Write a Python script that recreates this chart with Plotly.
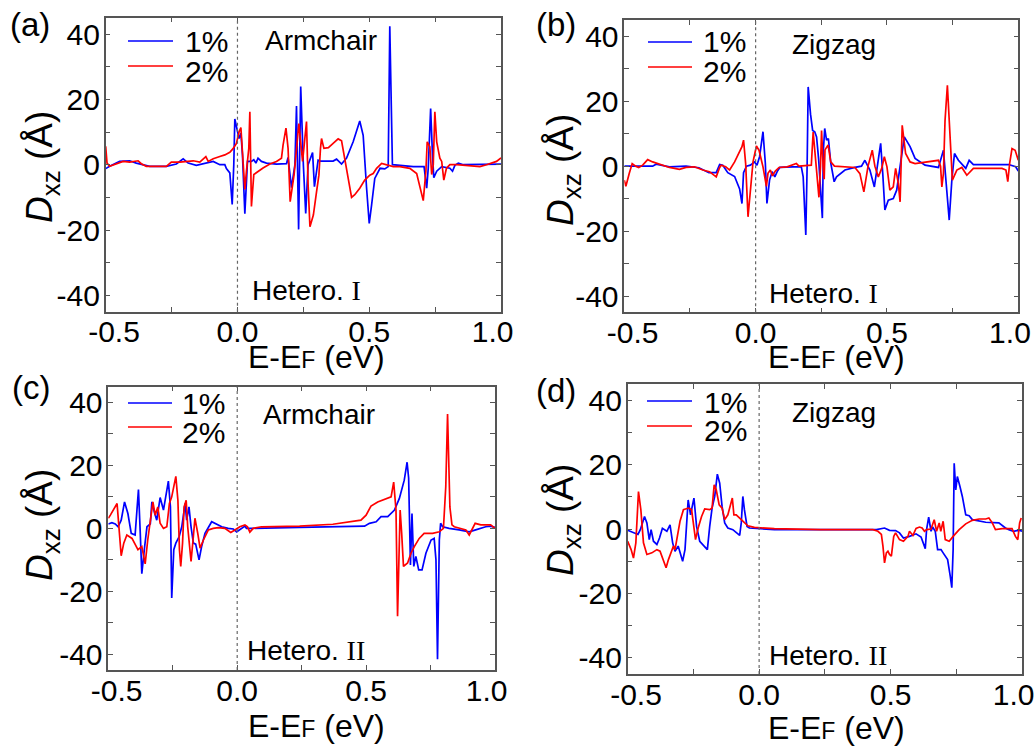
import plotly.graph_objects as go

# ---------------- data (E - EF in eV, D_xz in Angstrom) ----------------
NB = "\u00a0"
x_tick_vals = [-0.5, 0.0, 0.5, 1.0]
x_tick_text = [NB + NB + "-0.5", "0.0", "0.5", "1.0" + NB + NB]
y_tick_vals = [-40, -20, 0, 20, 40]
y_tick_text = ["-40", "-20", "0", "20", "40"]
series_names = ["1%", "2%"]
panel_titles = ["Armchair", "Zigzag", "Armchair", "Zigzag"]
panel_letters = ["(a)", "(b)", "(c)", "(d)"]
hetero_numerals = ["I", "I", "II", "II"]

a_1pct = [(-0.5, -1.2), (-0.485, -0.5), (-0.447, 1.0), (-0.409, 1.2), (-0.384, 0.5), (-0.358, 0), (-0.333, -0.5),
          (-0.27, -0.5), (-0.232, 0.2), (-0.206, 1.8), (-0.187, 0.5), (-0.156, -0.2), (-0.118, 0.5), (-0.092, 1.0),
          (-0.067, 0), (-0.048, 0), (-0.042, -1.2), (-0.029, -2.5), (-0.02, -12.2), (-0.014, 0), (-0.01, 14),
          (-0.001, 10.7), (0.006, 8), (0.013, 9.7), (0.019, 3), (0.028, -15), (0.038, 1), (0.053, 1), (0.062, 1.5),
          (0.07, 0.5), (0.078, 2), (0.091, 1), (0.11, 0.5), (0.148, 0.2), (0.186, 0.3), (0.192, 2.2), (0.205, -7),
          (0.218, 0), (0.224, 18), (0.232, -19.8), (0.24, 23.9), (0.25, 0), (0.259, -14.9), (0.268, 0), (0.285, 3.7),
          (0.292, -6.7), (0.306, 1.4), (0.315, 1.1), (0.363, 1.1), (0.376, 1.7), (0.395, 0.2), (0.414, 2.0),
          (0.439, 7), (0.464, 13.4), (0.477, 9), (0.49, -7.2), (0.5, -18), (0.509, -12.3), (0.521, -4.2),
          (0.541, -1.1), (0.559, -1.3), (0.572, -0.6), (0.578, 42.4), (0.588, 0), (0.616, -0.2), (0.667, -0.6),
          (0.708, -0.6), (0.718, -7.2), (0.724, -1), (0.733, 17.2), (0.74, 3), (0.745, -4), (0.756, -2),
          (0.775, -0.6), (0.806, -1.1), (0.816, -2), (0.825, -0.2), (0.838, 0.5), (0.857, 0), (1.0, 0.2)]

a_2pct = [(-0.5, 5.6), (-0.495, 0.5), (-0.485, -0.5), (-0.459, 0.2), (-0.434, 1), (-0.409, 0.8), (-0.377, 1.2),
          (-0.365, 0.3), (-0.346, -0.5), (-0.27, -0.5), (-0.251, 0.8), (-0.219, 0.8), (-0.168, 1.2), (-0.143, 0.8),
          (-0.12, 2.5), (-0.111, 1.0), (-0.092, 1.8), (-0.067, 2.5), (-0.048, 3), (-0.029, 3.8), (-0.016, 5),
          (-0.004, 6.5), (0.006, 10), (0.013, 11.4), (0.019, 5), (0.028, -7.6), (0.034, -2), (0.043, 5),
          (0.047, 16.2), (0.053, -12.8), (0.062, -3), (0.078, -2), (0.097, -1), (0.123, 0.2), (0.148, 1),
          (0.167, 2), (0.173, 6), (0.184, 11.2), (0.192, 5), (0.2, -11.3), (0.215, -3), (0.233, 12.6),
          (0.247, 1), (0.262, 13.2), (0.268, -6), (0.275, -19), (0.288, -15.4), (0.3, -8.3), (0.309, -3.2),
          (0.315, 5), (0.319, 8), (0.328, 5), (0.345, 5.2), (0.363, 6.5), (0.382, 7.9), (0.395, 7.3),
          (0.407, 2), (0.42, -4.2), (0.433, -10), (0.445, -9.2), (0.464, -7.2), (0.483, -4.7), (0.502, -3.2),
          (0.515, -2.7), (0.528, -1.1), (0.547, 0.4), (0.566, -0.1), (0.591, -0.6), (0.616, -0.6), (0.654, -1.1),
          (0.68, -2.7), (0.695, -7.3), (0.705, -11), (0.715, -2), (0.72, 7), (0.73, 5.5), (0.737, -3), (0.743, 0),
          (0.749, 16.2), (0.756, 7), (0.768, 2), (0.775, 1), (0.783, -4.7), (0.793, -1.1), (0.806, 0),
          (0.832, 0), (0.87, -0.2), (0.92, -0.6), (0.945, 0), (0.983, 1), (1.0, 2.1)]

b_1pct = [(-0.5, 0), (-0.392, 0), (-0.379, 0.6), (-0.328, -0.2), (-0.265, 0), (-0.216, -0.5), (-0.178, -2),
          (-0.15, -2), (-0.137, 0.5), (-0.125, 0.3), (-0.106, -2), (-0.08, -3.2), (-0.061, -7), (-0.052, -11.5),
          (-0.046, -2), (-0.035, 0), (-0.02, 0.3), (-0.004, 1.3), (0.005, 0.3), (0.015, 2.9), (0.028, 10.6),
          (0.037, 0.8), (0.043, -11.5), (0.053, -4.3), (0.063, -1.7), (0.073, -3.3), (0.082, -1.7), (0.092, -0.4),
          (0.142, -0.2), (0.174, -0.2), (0.181, -3.3), (0.187, -17.6), (0.191, -21.2), (0.196, 0), (0.2, 24.4),
          (0.209, 16), (0.217, 11), (0.225, 10.6), (0.232, 9), (0.24, 2), (0.25, -12), (0.254, -16), (0.258, 5),
          (0.263, 11.6), (0.27, 8), (0.277, 8.5), (0.286, 1), (0.299, -4.8), (0.308, -3.3), (0.34, -1.2),
          (0.378, -0.4), (0.403, 0), (0.416, 1.8), (0.435, -1.2), (0.452, -6.4), (0.467, 1.8), (0.476, 7),
          (0.484, -2.3), (0.492, -13.5), (0.505, -10.5), (0.524, -10), (0.537, -7.4), (0.553, 1.3), (0.566, 9),
          (0.588, 6), (0.607, 2.4), (0.645, 0.3), (0.696, -0.4), (0.715, 4.9), (0.728, -7.4), (0.737, -16.6),
          (0.747, -4.3), (0.757, 3.9), (0.772, 1.8), (0.8, -0.7), (0.813, 1.8), (0.829, 0.5), (0.861, 0.5),
          (0.963, 0.5), (0.99, -0.2), (1.0, -1.5)]

b_2pct = [(-0.5, -4.3), (-0.494, -6.2), (-0.481, -2.2), (-0.47, 0.8), (-0.457, 0), (-0.445, -0.4), (-0.43, 0.3),
          (-0.411, 2), (-0.392, 1.3), (-0.373, 0.8), (-0.354, 0.3), (-0.328, -0.4), (-0.29, -1), (-0.265, -0.4),
          (-0.233, -0.2), (-0.201, -1.2), (-0.176, -1.7), (-0.15, -3.3), (-0.137, -0.4), (-0.131, 0.3),
          (-0.114, -0.2), (-0.099, -1.2), (-0.08, 1.3), (-0.064, 3.9), (-0.052, 6), (-0.046, 8), (-0.038, 0.8),
          (-0.029, -15.6), (-0.02, -6.4), (-0.01, 1.3), (0.003, 6.2), (0.013, 4.9), (0.022, 1.8), (0.028, -0.2),
          (0.041, -6.2), (0.047, -2.2), (0.056, -1.2), (0.064, -3), (0.075, -1.5), (0.089, -0.4), (0.12, -0.2),
          (0.155, 0.8), (0.165, 0), (0.212, 0.3), (0.219, 10.5), (0.226, 4), (0.232, -2), (0.241, -9.6),
          (0.247, 0), (0.251, 11), (0.257, 0), (0.261, -4), (0.264, 5), (0.276, 6.5), (0.286, 1.3), (0.3, 0),
          (0.378, -0.4), (0.397, -2.3), (0.412, -7.9), (0.428, 0), (0.444, 4.9), (0.454, 0), (0.467, -3.3),
          (0.48, -0.7), (0.49, 2.9), (0.5, -0.2), (0.511, -7.4), (0.524, -6.4), (0.533, -0.7), (0.543, -5.2),
          (0.55, -11), (0.558, 12.6), (0.571, 3.9), (0.588, 1.3), (0.607, 0.8), (0.658, 1.3), (0.696, 1.8),
          (0.704, 0), (0.709, -6.4), (0.715, -2.2), (0.721, 14), (0.73, 24.9), (0.74, 11), (0.749, -4.3),
          (0.766, -1.2), (0.785, -0.4), (0.804, -2.8), (0.817, -1.7), (0.829, -0.7), (0.861, -0.7),
          (0.938, -0.7), (0.953, -1.2), (0.96, -4.8), (0.967, 0.8), (0.976, 5.4), (0.988, 4.9), (1.0, 1.8)]

c_1pct = [(-0.5, 1.4), (-0.486, 1.8), (-0.473, 1.4), (-0.462, 0.5), (-0.45, 2.6), (-0.437, 8.4), (-0.424, 4.7),
          (-0.411, -1.6), (-0.396, -2.1), (-0.383, 12.3), (-0.376, -1.6), (-0.37, -14.4), (-0.359, -5.8),
          (-0.35, 0.5), (-0.337, 1.4), (-0.331, 8.4), (-0.32, 4.7), (-0.312, 2.6), (-0.299, 9.8), (-0.286, 5.8),
          (-0.267, 15), (-0.259, 6.8), (-0.254, -22.1), (-0.246, -6.8), (-0.238, -4.7), (-0.225, -2.6),
          (-0.215, 0.5), (-0.202, 7.9), (-0.196, 2.6), (-0.187, 6.8), (-0.179, 0.5), (-0.17, -4.7), (-0.161, -5),
          (-0.148, -10), (-0.138, -5.8), (-0.125, -1.6), (-0.099, 2.1), (-0.08, 1.4), (-0.06, 0.5), (-0.035, 0),
          (-0.015, -0.2), (-0.002, -1.1), (0.01, -0.5), (0.03, 0.7), (0.036, 0), (0.055, 0), (0.242, 0.3),
          (0.371, 0.5), (0.48, 0.5), (0.494, 0.7), (0.513, 1.6), (0.539, 2.1), (0.558, 3.7), (0.584, 3.7),
          (0.61, 5.8), (0.629, 9.5), (0.648, 15.3), (0.659, 21), (0.665, 16), (0.672, -11.6), (0.678, 4.7),
          (0.685, -12.1), (0.693, -8.9), (0.704, -13.2), (0.717, -13.2), (0.732, -7.9), (0.752, -3.7),
          (0.764, -3.2), (0.771, -10), (0.777, -41.6), (0.784, -3.7), (0.789, 1.6), (0.797, 0.5), (0.822, 0),
          (0.861, -0.5), (0.9, -1.1), (0.925, -0.5), (0.964, 0.5), (0.983, 0.7), (1.0, 0.3)]

c_2pct = [(-0.5, 3.2), (-0.492, 4.2), (-0.466, 7.9), (-0.46, 2.6), (-0.45, -8.7), (-0.44, -4.7), (-0.428, -2.1),
          (-0.408, -3.2), (-0.385, -6.8), (-0.37, -5.8), (-0.357, -11.3), (-0.347, -3.7), (-0.338, 1.6),
          (-0.327, 8.4), (-0.318, 4.2), (-0.308, 6.8), (-0.299, 1.6), (-0.286, 0), (-0.273, 0.5), (-0.263, 7.9),
          (-0.254, 10), (-0.238, 16.5), (-0.23, 8.9), (-0.224, -6.8), (-0.219, -12.1), (-0.212, -4.7),
          (-0.206, 6.8), (-0.198, 8.9), (-0.192, 0.5), (-0.179, -10.5), (-0.17, -2.6), (-0.164, 3.2),
          (-0.153, -1.6), (-0.144, -6.3), (-0.131, -3.7), (-0.112, -0.5), (-0.093, 0), (-0.073, 0.2), (-0.048, 0),
          (-0.025, -1.3), (-0.009, -0.5), (0.01, 0.5), (0.03, 1.1), (0.04, 0.5), (0.049, -1.2), (0.062, 0),
          (0.094, 0.5), (0.133, 0.5), (0.242, 0.7), (0.371, 1.3), (0.48, 2.6), (0.5, 4.2), (0.519, 7.1),
          (0.545, 8.4), (0.577, 9.5), (0.597, 10), (0.607, 14.7), (0.616, 5.8), (0.622, -27.9), (0.626, -10),
          (0.632, 5.8), (0.638, -1.6), (0.645, -12.1), (0.661, -11), (0.674, -7.9), (0.687, -5.8), (0.706, -3.2),
          (0.725, -1.6), (0.758, -1.6), (0.784, -1.1), (0.8, 0), (0.809, 13.2), (0.816, 36.3), (0.825, 6.8),
          (0.833, 1.1), (0.842, 0.5), (0.861, 0), (0.887, -0.5), (0.9, -2.1), (0.912, 0), (0.923, 1.6),
          (0.945, 1.1), (0.983, 1.1), (1.0, 0)]

d_1pct = [(-0.5, -0.4), (-0.478, -1.2), (-0.461, -1.7), (-0.452, -0.2), (-0.436, 3.9), (-0.427, 1.9),
          (-0.418, -3.3), (-0.411, -0.2), (-0.402, -3.8), (-0.389, -4.8), (-0.379, -2.8), (-0.368, 0.2),
          (-0.351, -0.7), (-0.339, 1.3), (-0.329, -4.3), (-0.32, -6.9), (-0.308, -5.3), (-0.291, -10),
          (-0.282, -6.4), (-0.27, 9), (-0.261, 4.4), (-0.248, 9.6), (-0.238, 0.8), (-0.226, -3.8), (-0.209, -5.3),
          (-0.197, -6.4), (-0.188, 0.8), (-0.179, 6.5), (-0.169, 10.1), (-0.159, 17), (-0.15, 14.2), (-0.141, 7),
          (-0.131, 1.9), (-0.119, 0.3), (-0.1, -0.2), (-0.074, -2), (-0.068, 1.9), (-0.062, 10.1), (-0.056, 6),
          (-0.046, 0.8), (-0.037, 0.3), (-0.005, 0.2), (0.058, -0.2), (0.232, -0.2), (0.446, -0.2), (0.477, 0.3),
          (0.496, -0.4), (0.519, -0.5), (0.534, -1.2), (0.549, -2.8), (0.572, -2.3), (0.597, -1.5), (0.616, -2.5),
          (0.632, -6.1), (0.637, -0.2), (0.645, 3.7), (0.654, -0.7), (0.66, 0.6), (0.67, -0.7), (0.679, -6.4),
          (0.692, -6.4), (0.7, -7.4), (0.717, -9.5), (0.727, -14.6), (0.733, -18.2), (0.738, -6.4), (0.742, 20.4),
          (0.748, 12.1), (0.754, 16.3), (0.764, 13.2), (0.773, 10.1), (0.786, 4.4), (0.799, 4.1), (0.811, 2.9),
          (0.836, 2.4), (0.862, 2.1), (0.912, 1.9), (0.937, 0.3), (0.95, -0.2), (0.968, -0.7), (0.988, -0.4),
          (1.0, -0.7)]

d_2pct = [(-0.5, -3.8), (-0.487, -6.4), (-0.478, -9), (-0.469, -4.3), (-0.459, 11.6), (-0.45, 6), (-0.44, -4.3),
          (-0.427, -7.9), (-0.408, -7.4), (-0.389, -6.4), (-0.377, -6.9), (-0.364, -9.5), (-0.354, -12),
          (-0.345, -9.5), (-0.335, -7.4), (-0.326, -5.3), (-0.32, -6.4), (-0.309, -1.2), (-0.301, 2.4),
          (-0.288, 6), (-0.269, 6.5), (-0.257, 6), (-0.251, 1.9), (-0.242, -3.3), (-0.232, 0.3), (-0.219, 3.9),
          (-0.207, 6.2), (-0.188, 6), (-0.179, 6.5), (-0.171, 13.7), (-0.163, 12.1), (-0.152, 7.5), (-0.141, 6.5),
          (-0.131, 2.9), (-0.119, 4.4), (-0.102, 9.6), (-0.096, 4.4), (-0.087, 4.4), (-0.074, 3.4), (-0.062, 2.4),
          (-0.043, 1.0), (-0.018, 0.5), (0.008, 0.3), (0.058, 0.1), (0.232, -0.2), (0.433, -0.2), (0.452, -0.7),
          (0.465, -1.7), (0.471, -5.3), (0.477, -10.5), (0.484, -7.4), (0.49, -6.9), (0.496, -7.9), (0.503, -8.4),
          (0.512, -2.3), (0.519, -1.2), (0.534, -3.3), (0.549, -3.8), (0.566, -2.3), (0.572, -0.7), (0.585, -2.0),
          (0.597, 0.2), (0.61, 0.6), (0.62, 0.3), (0.629, -0.7), (0.637, -0.2), (0.654, 0), (0.666, 2.9),
          (0.675, -0.7), (0.685, 1.9), (0.691, -0.7), (0.7, 2.4), (0.708, -3.3), (0.723, -3.8), (0.738, -2.3),
          (0.761, -0.2), (0.786, 1.6), (0.811, 2.7), (0.837, 3.1), (0.862, 3.1), (0.874, 3.4), (0.887, 1.9),
          (0.899, -0.2), (0.925, 0.1), (0.962, 0.1), (0.975, -2.3), (0.984, -3.3), (0.991, 1.9), (0.997, 3.4)]

panel_data = [(a_1pct, a_2pct), (b_1pct, b_2pct), (c_1pct, c_2pct), (d_1pct, d_2pct)]

# ---------------- styling / layout ----------------
W, H = 1036, 747
COLORS = ["#0000ff", "#ff0000"]
FONT = "Liberation Sans, Arial, sans-serif"
AXCOL = "#555555"

def PX(x):
    return x / W

def PY(y):
    return 1 - y / H

# plot boxes in pixels: (left, right, top, bottom)
boxes = [(105.7, 501, 17.7, 311.7), (624.3, 1018.3, 20, 312.3),
         (108.3, 495, 386.7, 670), (627.7, 1022, 384, 674)]

fig = go.Figure()
layout = dict(width=W, height=H, template="none", showlegend=False,
              margin=dict(l=0, r=0, t=0, b=0), paper_bgcolor="white", plot_bgcolor="white",
              font=dict(family=FONT, color="black"))
shapes, annotations = [], []

for i, (box, series) in enumerate(zip(boxes, panel_data)):
    n = "" if i == 0 else str(i + 1)
    xa, ya = "x" + n, "y" + n
    L, R, T, B = box
    for k, s in enumerate(series):
        xs = [p[0] for p in s]
        ys = [p[1] for p in s]
        fig.add_trace(go.Scatter(x=xs, y=ys, mode="lines", name=series_names[k],
                                 line=dict(color=COLORS[k], width=1.7), xaxis=xa, yaxis=ya))
    common = dict(showline=True, mirror="ticks", linecolor=AXCOL, linewidth=1.5,
                  ticks="inside", ticklen=5, tickwidth=1.2, tickcolor=AXCOL,
                  showgrid=False, zeroline=False, ticklabeloverflow="allow",
                  tickfont=dict(family=FONT, size=30, color="black"))
    layout["xaxis" + n] = dict(common, domain=[PX(L), PX(R)], anchor=ya, range=[-0.5, 1.0],
                               tickmode="array", tickvals=x_tick_vals, ticktext=x_tick_text,
                               ticklabelstandoff=-7,
                               minor=dict(tickvals=[-0.25, 0.25, 0.75], ticks="inside", ticklen=5,
                                          tickcolor=AXCOL, tickwidth=1.2))
    layout["yaxis" + n] = dict(common, domain=[PY(B), PY(T)], anchor=xa, range=[-45, 45],
                               tickmode="array", tickvals=y_tick_vals, ticktext=y_tick_text,
                               ticklabelstandoff=-2,
                               minor=dict(tickvals=[-30, -10, 10, 30], ticks="inside", ticklen=5,
                                          tickcolor=AXCOL, tickwidth=1.2))
    # dashed Fermi level
    shapes.append(dict(type="line", xref=xa, yref=ya + " domain", x0=0, x1=0, y0=0, y1=1,
                       line=dict(color="#666666", width=1.2, dash="3px,3px")))

# legends (sample lines + text)
legend_pos = [(128, 173, 41, 66, 183, 41, 72), (648, 692, 42, 67, 701, 41, 72),
              (128, 172, 403, 427, 180, 403, 432), (647, 692, 401, 426, 702, 402, 430)]
for (x0, x1, yb, yr, tx, ty1, ty2) in legend_pos:
    for k, yy in enumerate([yb, yr]):
        shapes.append(dict(type="line", xref="paper", yref="paper", x0=PX(x0), x1=PX(x1),
                           y0=PY(yy), y1=PY(yy), line=dict(color=COLORS[k], width=1.5)))
    for k, ty in enumerate([ty1, ty2]):
        annotations.append(dict(text=series_names[k], x=PX(tx), y=PY(ty), xref="paper", yref="paper",
                                xanchor="left", yanchor="middle", showarrow=False,
                                font=dict(size=30, family=FONT)))

# panel titles (Armchair/Zigzag)
title_pos = [(263, 40), (790, 45), (261, 414), (790, 412)]
for t, (x, y) in zip(panel_titles, title_pos):
    annotations.append(dict(text=t, x=PX(x), y=PY(y), xref="paper", yref="paper", xanchor="left",
                            yanchor="middle", showarrow=False, font=dict(size=28, family=FONT)))

# Hetero labels
het_pos = [(250, 291), (767, 293), (245, 650), (767, 655)]
for r, (x, y) in zip(hetero_numerals, het_pos):
    annotations.append(dict(text="Hetero. <span style='font-family:Liberation Serif'>" + r + "</span>",
                            x=PX(x), y=PY(y), xref="paper", yref="paper", xanchor="left",
                            yanchor="middle", showarrow=False, font=dict(size=28, family=FONT)))

# panel letters
letter_pos = [(30, 25), (556, 25), (31, 387), (556, 390)]
for t, (x, y) in zip(panel_letters, letter_pos):
    annotations.append(dict(text=t, x=PX(x), y=PY(y), xref="paper", yref="paper", xanchor="center",
                            yanchor="middle", showarrow=False, font=dict(size=33, family=FONT)))

# axis titles
xt_pos = [(316, 357), (836, 357), (316, 726), (836, 728)]
for (x, y) in xt_pos:
    annotations.append(dict(text="E-E<span style='font-size:23px'>F</span> (eV)", x=PX(x), y=PY(y),
                            xref="paper", yref="paper", xanchor="center", yanchor="middle",
                            showarrow=False, font=dict(size=32, family=FONT)))
yt_pos = [(42, 167), (563, 170), (42, 525), (563, 520)]
for (x, y) in yt_pos:
    annotations.append(dict(text="<i>D</i><sub>xz</sub> (Å)", x=PX(x), y=PY(y), xref="paper", yref="paper",
                            xanchor="center", yanchor="middle", textangle=-90, showarrow=False,
                            font=dict(size=37, family=FONT)))

layout["shapes"] = shapes
layout["annotations"] = annotations
fig.update_layout(**layout)
fig.write_html("out.html", config={"displayModeBar": False},
               post_script="document.body.style.margin='0px';")
